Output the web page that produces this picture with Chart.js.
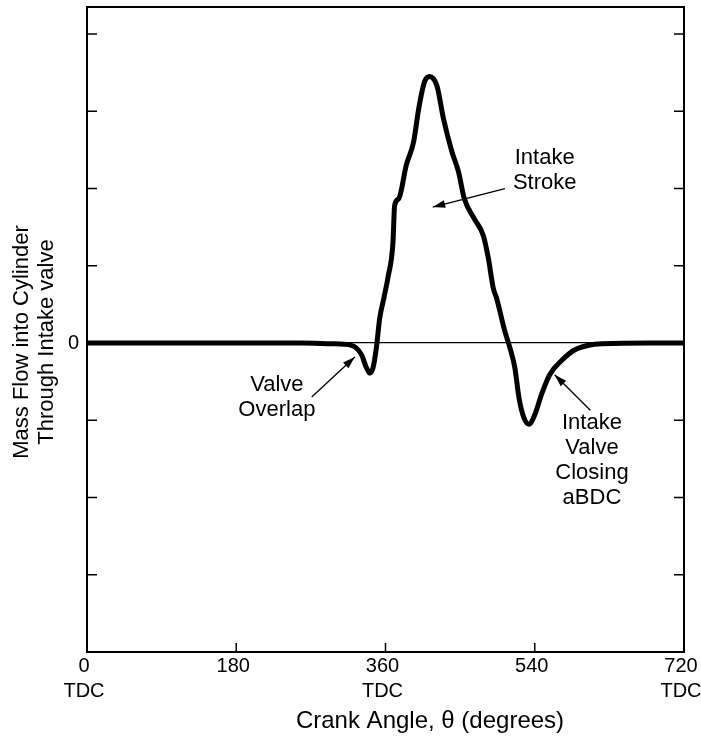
<!DOCTYPE html>
<html>
<head>
<meta charset="utf-8">
<script src="https://cdn.jsdelivr.net/npm/chart.js@4.4.1/dist/chart.umd.min.js"></script>
<style>
  html, body { margin: 0; padding: 0; background: #fff; }
  #wrap { width: 701px; height: 740px; }
</style>
</head>
<body>
<div id="wrap"><canvas id="flow"></canvas></div>
<script>
// crank angle (deg) and mass flow (arbitrary units)
const angle = [0, 100, 200, 258, 295, 319, 331, 337, 341, 345, 349, 353, 358, 363, 369, 371,
  376, 385, 394, 400, 407, 413, 422, 430, 440, 448, 455, 467, 478, 484, 490, 494, 504, 510,
  516, 521, 527, 533, 540, 548, 558, 573, 588, 605, 621, 680, 720];
const flow = [0, 0, 0, 0, -0.01, -0.03, -0.15, -0.32, -0.39, -0.32, -0.06, 0.32, 0.58, 0.85, 1.3, 1.78,
  1.87, 2.3, 2.61, 3.03, 3.38, 3.45, 3.33, 2.9, 2.48, 2.22, 1.87, 1.61, 1.39, 1.1, 0.71, 0.58, 0.15, -0.06,
  -0.32, -0.71, -0.97, -1.05, -0.93, -0.67, -0.41, -0.22, -0.09, -0.03, -0.01, 0, 0];

const xTicks = [0, 180, 360, 540, 720];
const xTickLabels = [["0", "TDC"], ["180"], ["360", "TDC"], ["540"], ["720", "TDC"]];
const yTicks = [-3, -2, -1, 0, 1, 2, 3, 4];
const yTitle = ["Mass Flow into Cylinder", "Through Intake valve"];
const xTitle = "Crank Angle, \u03b8 (degrees)";

// notes: text lines at [x, y] in data units, arrow from tail to head
const notes = [
  { lines: ["Intake", "Stroke"], at: [552, 2.39], tail: [504, 2.0], head: [417, 1.76] },
  { lines: ["Valve", "Overlap"], at: [229, -0.54], tail: [271, -0.70], head: [323, -0.18] },
  { lines: ["Intake", "Valve", "Closing", "aBDC"], at: [609, -1.04], tail: [607, -0.87], head: [564, -0.41] }
];

const FONT = "'Liberation Sans', Arial, sans-serif";

const decor = {
  id: "decor",
  afterDraw(chart) {
    const c = chart.ctx, a = chart.chartArea;
    const xs = chart.scales.x, ys = chart.scales.y;
    c.save();
    c.strokeStyle = "#000";
    c.fillStyle = "#000";
    // frame
    c.lineWidth = 2;
    c.strokeRect(a.left, a.top, a.right - a.left, a.bottom - a.top);
    // inward ticks
    c.lineWidth = 1.5;
    yTicks.forEach(v => {
      if (v === 0) return;
      const py = ys.getPixelForValue(v);
      c.beginPath();
      c.moveTo(a.left, py); c.lineTo(a.left + 10, py);
      c.moveTo(a.right, py); c.lineTo(a.right - 10, py);
      c.stroke();
    });
    xTicks.forEach(v => {
      if (v === 0 || v === 720) return;
      const px = xs.getPixelForValue(v);
      c.beginPath();
      c.moveTo(px, a.bottom); c.lineTo(px, a.bottom - 9);
      c.stroke();
    });
    c.textAlign = "center";
    c.textBaseline = "middle";
    // x title
    c.font = "24px " + FONT;
    c.fillText(xTitle, 430, 721);
    // y title
    c.font = "22px " + FONT;
    c.translate(22, 342);
    c.rotate(-Math.PI / 2);
    c.fillText(yTitle[0], 0, 0);
    c.fillText(yTitle[1], 0, 25);
    c.setTransform(1, 0, 0, 1, 0, 0);
    // annotations
    notes.forEach(n => {
      const tx = xs.getPixelForValue(n.at[0]), ty = ys.getPixelForValue(n.at[1]);
      n.lines.forEach((t, i) => c.fillText(t, tx, ty + i * 25));
      const x0 = xs.getPixelForValue(n.tail[0]), y0 = ys.getPixelForValue(n.tail[1]);
      const x1 = xs.getPixelForValue(n.head[0]), y1 = ys.getPixelForValue(n.head[1]);
      c.lineWidth = 1.3;
      c.beginPath(); c.moveTo(x0, y0); c.lineTo(x1, y1); c.stroke();
      const ang = Math.atan2(y1 - y0, x1 - x0);
      c.beginPath();
      c.moveTo(x1, y1);
      c.lineTo(x1 - 13 * Math.cos(ang - 0.3), y1 - 13 * Math.sin(ang - 0.3));
      c.lineTo(x1 - 13 * Math.cos(ang + 0.3), y1 - 13 * Math.sin(ang + 0.3));
      c.closePath(); c.fill();
    });
    c.restore();
  }
};

new Chart(document.getElementById("flow"), {
  type: "line",
  data: {
    datasets: [{
      data: angle.map((a, i) => ({ x: a, y: flow[i] })),
      borderColor: "#000",
      borderWidth: 5,
      pointRadius: 0,
      fill: false,
      cubicInterpolationMode: "monotone"
    }]
  },
  options: {
    responsive: true,
    maintainAspectRatio: false,
    animation: false,
    layout: { padding: { top: 7, right: 17, bottom: 7, left: 0 } },
    plugins: { legend: { display: false }, tooltip: { enabled: false } },
    scales: {
      x: {
        type: "linear",
        min: 0, max: 720,
        afterBuildTicks: s => { s.ticks = xTicks.map(v => ({ value: v })); },
        afterFit: s => { s.height = 81; s.paddingLeft = 0; s.paddingRight = 0; },
        ticks: {
          autoSkip: false,
          maxRotation: 0,
          padding: 2,
          labelOffset: -3,
          color: "#000",
          font: { family: FONT, size: 20, lineHeight: 1.25 },
          callback: (v) => xTickLabels[xTicks.indexOf(v)]
        },
        grid: { display: false, drawTicks: false },
        border: { display: false }
      },
      y: {
        min: -4, max: 4.35,
        afterBuildTicks: s => { s.ticks = yTicks.map(v => ({ value: v })); },
        afterFit: s => { s.width = 87; s.paddingTop = 0; s.paddingBottom = 0; },
        ticks: {
          padding: 8,
          color: "#000",
          font: { family: FONT, size: 20 },
          callback: v => (v === 0 ? "0" : "")
        },
        grid: {
          drawTicks: false,
          lineWidth: 1.3,
          color: c => (c.tick && c.tick.value === 0 ? "#000" : "rgba(0,0,0,0)")
        },
        border: { display: false }
      }
    }
  },
  plugins: [decor]
});
</script>
</body>
</html>
